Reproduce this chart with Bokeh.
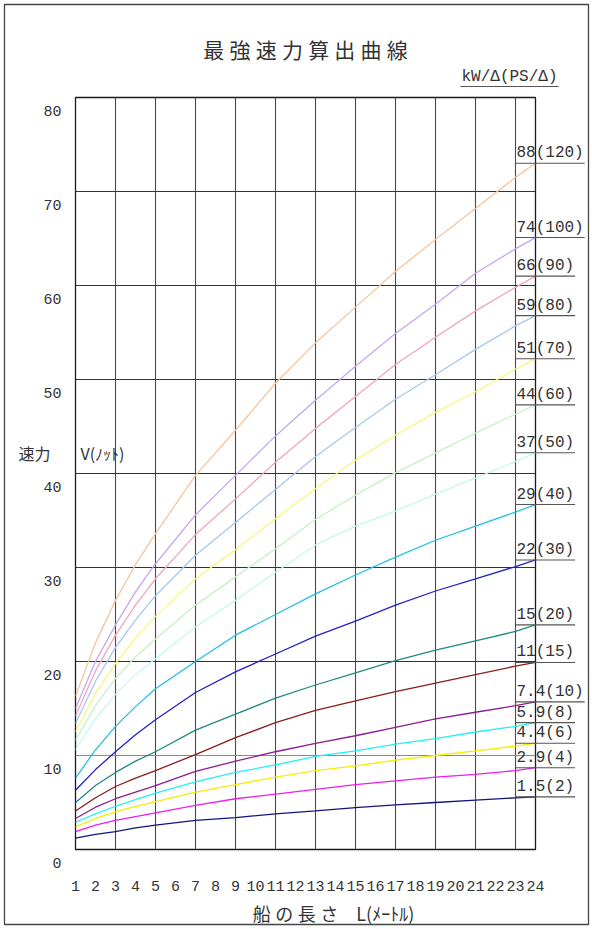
from bokeh.plotting import figure
from bokeh.models import Range1d
from bokeh.core.properties import value
from bokeh.embed import file_html
from bokeh.resources import INLINE

# Boat length L (m) at which each curve is sampled
lengths = [1, 2, 3, 4, 5, 7, 9, 11, 13, 15, 17, 19, 21, 23, 24]

# Power ratio labels, kW/displacement (PS/displacement)
power_labels = ["88(120)", "74(100)", "66(90)", "59(80)", "51(70)", "44(60)", "37(50)",
                "29(40)", "22(30)", "15(20)", "11(15)", "7.4(10)", "5.9(8)", "4.4(6)",
                "2.9(4)", "1.5(2)"]

# Maximum speed V (knots) for each power ratio
v_88 = [16.3, 22.0, 26.5, 30.3, 33.6, 39.8, 44.6, 49.6, 53.9, 57.7, 61.5, 64.9, 68.2, 71.5, 73.0]
v_74 = [15.0, 20.0, 23.9, 27.4, 30.4, 35.6, 39.8, 44.0, 47.8, 51.4, 54.9, 58.0, 61.3, 63.9, 65.1]
v_66 = [14.2, 19.0, 22.8, 26.0, 28.8, 33.5, 37.3, 41.2, 44.8, 48.2, 51.6, 54.5, 57.3, 59.8, 61.0]
v_59 = [13.4, 17.9, 21.5, 24.4, 27.0, 31.3, 34.8, 38.3, 41.8, 44.9, 47.9, 50.5, 53.2, 55.7, 56.8]
v_51 = [12.5, 16.6, 19.8, 22.5, 24.8, 28.8, 31.9, 35.2, 38.4, 41.4, 44.1, 46.5, 48.7, 51.1, 52.2]
v_44 = [11.6, 15.3, 18.2, 20.5, 22.4, 26.0, 29.0, 32.0, 35.1, 37.7, 40.1, 42.2, 44.3, 46.3, 47.3]
v_37 = [10.6, 13.9, 16.5, 18.6, 20.3, 23.7, 26.5, 29.5, 32.4, 34.4, 36.0, 37.8, 39.5, 41.3, 42.2]
v_29 = [7.6, 10.6, 13.1, 15.2, 17.1, 20.0, 22.8, 25.0, 27.2, 29.2, 31.1, 32.9, 34.4, 35.9, 36.7]
v_22 = [6.3, 8.5, 10.4, 12.2, 13.8, 16.7, 18.9, 20.8, 22.7, 24.3, 26.0, 27.5, 28.8, 30.1, 30.8]
v_15 = [5.0, 6.8, 8.2, 9.4, 10.4, 12.7, 14.4, 16.1, 17.5, 18.8, 20.1, 21.2, 22.2, 23.2, 23.9]
v_11 = [4.1, 5.5, 6.7, 7.6, 8.4, 10.1, 11.9, 13.5, 14.8, 15.8, 16.8, 17.7, 18.6, 19.5, 19.9]
v_7_4 = [3.3, 4.5, 5.4, 6.1, 6.8, 8.3, 9.4, 10.4, 11.3, 12.1, 13.0, 13.9, 14.6, 15.3, 15.7]
v_5_9 = [2.9, 3.8, 4.6, 5.3, 6.0, 7.2, 8.2, 9.0, 9.9, 10.5, 11.2, 11.8, 12.5, 13.1, 13.5]
v_4_4 = [2.4, 3.3, 4.0, 4.6, 5.1, 6.1, 6.9, 7.7, 8.4, 8.9, 9.5, 10.0, 10.5, 11.0, 11.3]
v_2_9 = [1.9, 2.6, 3.1, 3.5, 3.9, 4.7, 5.4, 5.9, 6.4, 6.9, 7.3, 7.7, 8.0, 8.4, 8.7]
v_1_5 = [1.2, 1.6, 1.9, 2.3, 2.6, 3.1, 3.4, 3.8, 4.1, 4.45, 4.75, 5.0, 5.25, 5.5, 5.6]

speeds = [v_88, v_74, v_66, v_59, v_51, v_44, v_37, v_29, v_22, v_15, v_11,
          v_7_4, v_5_9, v_4_4, v_2_9, v_1_5]

line_colors = ["#f8c49a", "#c6a6f2", "#f0a6bc", "#a6c8f0", "#f8f87a", "#c4f2c4",
               "#c4f8f0", "#22c0e0", "#2222cc", "#1f8a80", "#8c1c1c", "#8e1a96",
               "#22f0f4", "#f4f000", "#f01cf0", "#14147e"]

x_ticks = list(range(1, 25))
y_ticks = [0, 10, 20, 30, 40, 50, 60, 70, 80]
x_grid = [3, 5, 7, 9, 11, 13, 15, 17, 19, 21, 23]
y_grid = [10, 20, 30, 40, 50, 60, 70]

# Layout of the frame inside the page (pixels)
W, H = 592, 929
LEFT, RIGHT, TOP, BOTTOM = 75, 57, 97, 80
X0, X1, Y0, Y1 = 1, 24, 0, 80
PX_PER_X = (W - LEFT - RIGHT) / (X1 - X0)
PX_PER_Y = (H - TOP - BOTTOM) / (Y1 - Y0)


def px_to_x(px):
    return X0 + (px - LEFT) / PX_PER_X


def px_to_y(py):
    return Y0 + (H - BOTTOM - py) / PX_PER_Y


NUM_FONT = value("Liberation Mono")
JP_FONT = value("Noto Sans CJK JP")
TEXT_COLOR = "#333333"

p = figure(width=W, height=H, x_range=Range1d(X0, X1), y_range=Range1d(Y0, Y1),
           min_border_left=LEFT, min_border_right=RIGHT, min_border_top=TOP,
           min_border_bottom=BOTTOM, output_backend="svg", toolbar_location=None)
p.xaxis.visible = False
p.yaxis.visible = False
p.grid.visible = False
p.outline_line_color = "#1a1a1a"
p.outline_line_width = 1.3
p.background_fill_color = "white"
p.border_fill_color = "white"


def put_text(x, y, txt, font, size, align="left", baseline="middle", dx=0, dy=0,
             color=TEXT_COLOR):
    # text drawn above the frame clip so it may sit in the margins
    p.text(x=[x], y=[y], text=[txt], text_font=font, text_font_size=size,
           text_color=color, text_align=align, text_baseline=baseline,
           x_offset=dx, y_offset=dy, level="overlay")


# grid
p.segment(x0=x_grid, y0=[Y0] * len(x_grid), x1=x_grid, y1=[Y1] * len(x_grid),
          line_color="#4a4a4a", line_width=1.1)
grid_cols = ["#8a8a8a" if v == 10 else "#333333" for v in y_grid]
p.segment(x0=[X0] * len(y_grid), y0=y_grid, x1=[X1] * len(y_grid), y1=y_grid,
          line_color=grid_cols, line_width=1.1)

# speed curves
for vals, col in zip(speeds, line_colors):
    p.line(lengths, vals, line_color=col, line_width=1.3)

# curve labels with underlines at each curve end
CHAR_W = 9.6
for lab, vals in zip(power_labels, speeds):
    end_v = vals[-1]
    put_text(23, end_v, lab, NUM_FONT, "16px", baseline="bottom", dx=1, dy=-1)
    p.segment(x0=[23], y0=[end_v], x1=[23 + (len(lab) * CHAR_W + 2) / PX_PER_X],
              y1=[end_v], line_color="#555555", line_width=1.1, level="overlay")

# unit label at top right
unit = "kW/Δ(PS/Δ)"
put_text(px_to_x(461), px_to_y(86), unit, NUM_FONT, "16px", baseline="bottom", dy=-1)
p.segment(x0=[px_to_x(460)], y0=[px_to_y(86)],
          x1=[px_to_x(462 + len(unit) * CHAR_W)], y1=[px_to_y(86)],
          line_color="#555555", line_width=1.1, level="overlay")

# tick labels
for v in y_ticks:
    put_text(X0, v, str(v), NUM_FONT, "15px", align="right", dx=-14, dy=13)
for v in x_ticks:
    put_text(v, Y0, str(v), NUM_FONT, "15px", align="center", dy=36)

# titles
put_text((X0 + X1) / 2, Y1, "最\u2005強\u2005速\u2005力\u2005算\u2005出\u2005曲\u2005線",
         JP_FONT, "21px", align="center", dy=-49)
put_text(px_to_x(34), px_to_y(452), "速力", JP_FONT, "16px", align="center")
put_text(px_to_x(80), px_to_y(452), "V(ﾉｯﾄ)", JP_FONT, "16px")
put_text(px_to_x(333), px_to_y(912), "船\u2005の\u2005長\u2005さ\u3000L(ﾒｰﾄﾙ)", JP_FONT,
         "18px", align="center")

# page border
p.quad(left=[px_to_x(4)], right=[px_to_x(588)], top=[px_to_y(4)], bottom=[px_to_y(924)],
       fill_color=None, line_color="#444444", line_width=1.3, level="overlay")

open("out.html", "w").write(file_html(p, INLINE))
